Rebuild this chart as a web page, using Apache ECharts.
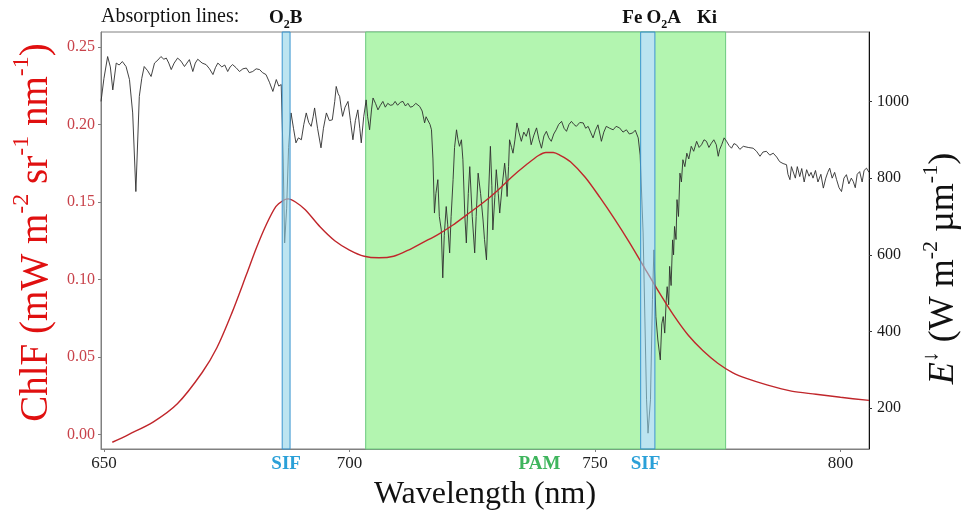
<!DOCTYPE html>
<html>
<head>
<meta charset="utf-8">
<script src="https://cdn.jsdelivr.net/npm/echarts@6/dist/echarts.min.js"></script>
<style>html,body{margin:0;padding:0;background:#fff}#c{width:963px;height:512px}</style>
</head>
<body>
<div id="c"></div>
<script>
// ---------- data ----------
const wavelengthTicks = [650, 700, 750, 800];
const chlfTicks = [0, 0.05, 0.10, 0.15, 0.20, 0.25];
const irrTicks = [200, 400, 600, 800, 1000];

const bandLabels = ['SIF', 'PAM', 'SIF'];
const bandLabelPos = [687.1, 738.7, 760.3];

const absLabels = ['O2B', 'Fe', 'O2A', 'Ki'];
const absLabelPos = [687.0, 757.6, 764.0, 772.8];

const pamBand = [[703.3, 776.6]];
const sifBands = [[686.3, 687.9], [759.3, 762.2]];

// ChlF (mW m-2 sr-1 nm-1)
const chlfWl = [651.7, 655, 660, 665, 670, 673, 676, 679, 681, 683, 685, 686.5, 687.5, 689, 691, 694, 697, 700, 703, 706, 709, 712, 715, 718, 721, 724, 727, 730, 733, 736, 738.5, 740, 741.5, 743, 745, 748, 751, 754, 757, 760, 763, 766, 769, 772, 775, 778, 781, 785, 790, 795, 800, 805.8];
const chlfVal = [-0.005, 0.000, 0.008, 0.020, 0.040, 0.056, 0.078, 0.103, 0.120, 0.135, 0.147, 0.151, 0.152, 0.150, 0.145, 0.134, 0.125, 0.119, 0.115, 0.114, 0.115, 0.119, 0.124, 0.129, 0.135, 0.142, 0.149, 0.157, 0.166, 0.174, 0.180, 0.182, 0.182, 0.180, 0.176, 0.166, 0.153, 0.139, 0.124, 0.108, 0.092, 0.077, 0.064, 0.054, 0.046, 0.040, 0.036, 0.032, 0.028, 0.026, 0.024, 0.022];

// Downwelling irradiance (W m-2 um-1)
const irrWl = [649.4, 650.0, 650.75, 651.3, 651.8, 652.5, 653.1, 653.75, 654.5, 655.2, 655.85, 656.5, 657.2, 657.7, 658.2, 658.9, 659.6, 660.3, 661.0, 661.6, 662.2, 662.7, 663.2, 663.7, 664.3, 665.0, 665.7, 666.4, 666.9, 667.4, 668.1, 668.6, 669.1, 670.0, 670.8, 671.5, 672.2, 672.7, 673.2, 674.0, 674.6, 675.2, 675.7, 676.2, 676.9, 677.6, 678.3, 679.0, 679.6, 680.3, 681.0, 681.7, 682.3, 683.0, 683.7, 684.4, 685.1, 685.6, 686.1, 686.5, 686.8, 687.2, 687.6, 688.1, 688.6, 689.1, 689.6, 690.2, 690.7, 691.2, 691.7, 692.2, 692.6, 692.9, 693.5, 694.2, 694.7, 695.3, 695.9, 696.5, 697.0, 697.3, 697.7, 698.0, 698.3, 698.6, 699.1, 699.7, 700.2, 700.7, 701.2, 701.7, 702.1, 702.4, 702.9, 703.4, 703.7, 704.1, 704.5, 704.8, 705.3, 705.8, 706.3, 706.8, 707.3, 707.8, 708.3, 708.8, 709.3, 709.8, 710.4, 710.9, 711.4, 711.9, 712.4, 712.9, 713.5, 714.3, 714.8, 715.3, 715.6, 716.0, 716.4, 716.7, 717.0, 717.3, 717.6, 718.0, 718.3, 718.7, 719.0, 719.3, 719.7, 720.0, 720.4, 720.7, 721.1, 721.4, 721.8, 722.1, 722.4, 722.8, 723.1, 723.5, 723.8, 724.2, 724.5, 725.0, 725.5, 725.8, 726.2, 726.7, 727.2, 727.5, 727.9, 728.3, 728.7, 729.0, 729.2, 729.6, 729.9, 730.3, 730.6, 731.1, 731.6, 731.9, 732.1, 732.4, 732.6, 733.0, 733.3, 733.7, 734.1, 734.5, 735.0, 735.5, 736.0, 736.5, 737.0, 737.5, 738.1, 738.6, 739.1, 739.6, 740.1, 740.6, 741.1, 741.6, 742.1, 742.6, 743.2, 743.7, 744.2, 744.7, 745.2, 745.7, 746.2, 746.9, 747.6, 748.1, 748.6, 749.1, 749.6, 750.1, 750.6, 751.0, 751.3, 751.8, 752.3, 753.0, 753.7, 754.3, 755.0, 755.7, 756.4, 757.0, 757.7, 758.2, 758.8, 759.2, 759.8, 760.5, 760.8, 761.3, 761.7, 762.0, 762.4, 762.8, 763.3, 763.6, 763.9, 764.2, 764.5, 764.7, 765.0, 765.2, 765.5, 765.8, 766.0, 766.2, 766.5, 766.7, 767.0, 767.3, 767.6, 767.9, 768.3, 768.7, 769.1, 769.6, 770.1, 770.7, 771.2, 771.7, 772.2, 772.7, 773.2, 773.7, 774.2, 774.7, 775.1, 775.4, 775.8, 776.3, 776.8, 777.3, 777.8, 778.3, 778.8, 779.5, 780.2, 781.2, 782.2, 782.9, 783.6, 784.2, 784.9, 785.6, 786.3, 787.0, 787.6, 788.3, 789.0, 789.3, 789.7, 790.0, 790.4, 790.8, 791.2, 791.7, 792.1, 792.6, 793.1, 793.6, 794.0, 794.4, 794.9, 795.4, 796.0, 796.5, 797.0, 797.4, 797.8, 798.3, 798.8, 799.2, 799.7, 800.2, 800.7, 801.2, 801.7, 802.2, 802.6, 803.0, 803.4, 803.9, 804.4, 804.8, 805.3, 805.8];
const irrVal = [1000, 1060, 1117, 1090, 1030, 1100, 1095, 1104, 1091, 1057, 970, 765, 1013, 1060, 1091, 1080, 1065, 1100, 1108, 1117, 1110, 1113, 1100, 1083, 1100, 1113, 1105, 1091, 1100, 1109, 1078, 1100, 1110, 1100, 1096, 1085, 1070, 1088, 1100, 1090, 1095, 1078, 1090, 1096, 1088, 1078, 1085, 1087, 1075, 1078, 1085, 1083, 1075, 1070, 1050, 1026, 1057, 1040, 1044, 850, 631, 720, 880, 970, 930, 892, 905, 900, 940, 970, 945, 935, 960, 983, 930, 879, 930, 970, 950, 952, 1000, 1039, 1020, 1013, 985, 961, 985, 1000, 950, 900, 950, 978, 930, 892, 960, 1004, 960, 926, 980, 1009, 995, 978, 990, 1000, 985, 995, 990, 991, 1000, 990, 998, 1000, 988, 995, 985, 987, 995, 987, 975, 944, 960, 957, 940, 926, 850, 709, 760, 796, 700, 665, 540, 650, 726, 680, 605, 700, 796, 880, 926, 900, 883, 900, 848, 700, 631, 760, 830, 700, 605, 700, 813, 760, 691, 640, 587, 750, 883, 780, 665, 750, 822, 760, 709, 780, 839, 800, 752, 830, 900, 880, 865, 900, 944, 920, 896, 920, 909, 930, 887, 910, 931, 900, 878, 910, 922, 905, 896, 915, 926, 940, 948, 930, 922, 940, 948, 940, 935, 945, 944, 930, 935, 920, 905, 925, 939, 915, 896, 920, 935, 930, 926, 935, 931, 920, 926, 915, 918, 925, 905, 860, 657, 222, 135, 222, 483, 613, 439, 378, 326, 420, 439, 396, 480, 517, 470, 570, 520, 639, 600, 674, 640, 744, 700, 813, 790, 848, 830, 865, 850, 883, 870, 896, 880, 887, 900, 896, 880, 891, 900, 887, 857, 875, 887, 905, 896, 885, 878, 890, 887, 875, 883, 880, 878, 870, 857, 868, 870, 860, 865, 855, 843, 838, 835, 810, 796, 830, 826, 800, 830, 804, 825, 790, 822, 805, 815, 800, 820, 790, 810, 774, 800, 815, 826, 800, 815, 796, 775, 765, 800, 809, 785, 800, 791, 775, 810, 817, 790, 820, 826, 815];

// ---------- chart ----------
const serif = "'Liberation Serif', 'Times New Roman', serif";
const chart = echarts.init(document.getElementById('c'), null, { renderer: 'canvas' });

const xMin = 649.4, xMax = 805.8;

// band drawn as rects; the PAM band leaves out the parts covered by SIF bands
function bandRenderer(fill, stroke, holes) {
  return function (params, api) {
    const cs = params.coordSys;
    const a = api.value(0), b = api.value(1);
    let segs = [[a, b]];
    (holes || []).forEach(h => {
      const next = [];
      segs.forEach(s => {
        if (h[1] <= s[0] || h[0] >= s[1]) { next.push(s); return; }
        if (h[0] > s[0]) next.push([s[0], h[0]]);
        if (h[1] < s[1]) next.push([h[1], s[1]]);
      });
      segs = next;
    });
    const x0 = api.coord([a, 0])[0];
    const x1 = api.coord([b, 0])[0];
    const children = segs.map(s => {
      const p0 = api.coord([s[0], 0])[0];
      const p1 = api.coord([s[1], 0])[0];
      return { type: 'rect', shape: { x: p0, y: cs.y, width: p1 - p0, height: cs.height }, style: { fill: fill, lineWidth: 0 } };
    });
    children.push({ type: 'rect', shape: { x: x0, y: cs.y, width: x1 - x0, height: cs.height }, style: { fill: 'none', stroke: stroke, lineWidth: 1 } });
    return { type: 'group', children: children };
  };
}

const option = {
  animation: false,
  backgroundColor: '#fff',
  title: {
    text: 'Absorption lines:',
    left: 101, top: 7, padding: 0,
    textStyle: { fontFamily: serif, fontSize: 20, fontWeight: 'normal', color: '#111' }
  },
  grid: { left: 101, right: 94, top: 32, bottom: 63, show: true, borderColor: '#808080', borderWidth: 1, backgroundColor: 'transparent', outerBoundsMode: 'none', containLabel: false },
  xAxis: [{
    type: 'value', min: xMin, max: xMax, position: 'bottom',
    splitLine: { show: false },
    axisLine: { show: true, onZero: false, lineStyle: { color: '#808080' } },
    axisTick: { show: true, length: 3, customValues: wavelengthTicks, lineStyle: { color: '#808080' } },
    axisLabel: {
      customValues: wavelengthTicks.concat(bandLabelPos),
      margin: 6,
      formatter: function (v) {
        const i = bandLabelPos.findIndex(p => Math.abs(p - v) < 1e-6);
        if (i >= 0) return '{' + bandLabels[i].toLowerCase() + '|' + bandLabels[i] + '}';
        return '{t|' + Math.round(v) + '}';
      },
      rich: {
        t: { fontFamily: serif, fontSize: 17, color: '#222' },
        sif: { fontFamily: serif, fontSize: 19, fontWeight: 'bold', color: '#2aa0d8' },
        pam: { fontFamily: serif, fontSize: 19, fontWeight: 'bold', color: '#3fb55d' }
      }
    },
    name: 'Wavelength (nm)', nameLocation: 'middle', nameGap: 23,
    nameTextStyle: { fontFamily: serif, fontSize: 32, color: '#111' }
  }, {
    type: 'value', min: xMin, max: xMax, position: 'top',
    splitLine: { show: false },
    axisLine: { show: false, onZero: false },
    axisTick: { show: false },
    axisLabel: {
      customValues: absLabelPos,
      margin: 1,
      formatter: function (v) {
        const i = absLabelPos.findIndex(p => Math.abs(p - v) < 1e-6);
        const s = absLabels[i];
        return s.split('').map(ch => ch === '2' ? '{s|2}' : '{b|' + ch + '}').join('');
      },
      rich: {
        b: { fontFamily: serif, fontSize: 19, fontWeight: 'bold', color: '#111', lineHeight: 22, verticalAlign: 'top' },
        s: { fontFamily: serif, fontSize: 12, fontWeight: 'bold', color: '#111', lineHeight: 12, verticalAlign: 'bottom' }
      }
    }
  }],
  yAxis: [{
    type: 'value', min: -0.00935, max: 0.2597, position: 'left',
    splitLine: { show: false },
    axisLine: { show: true, onZero: false, lineStyle: { color: '#808080' } },
    axisTick: { show: true, length: 3, customValues: chlfTicks, lineStyle: { color: '#808080' } },
    axisLabel: {
      customValues: chlfTicks, margin: 6,
      formatter: v => v.toFixed(2),
      fontFamily: serif, fontSize: 16, color: '#c8424a'
    },
    name: '{m|ChlF (mW m}{s|-2}{m| sr}{s|-1}{m| nm}{s|-1}{m|)}',
    nameLocation: 'middle', nameRotate: 90, nameGap: 42,
    nameTextStyle: {
      padding: [0, 0, 0, 16],
      rich: {
        m: { fontFamily: serif, fontSize: 39, color: '#e01010', lineHeight: 46, verticalAlign: 'bottom' },
        s: { fontFamily: serif, fontSize: 24, color: '#e01010', lineHeight: 22, verticalAlign: 'top' }
      }
    }
  }, {
    type: 'value', min: 93.8, max: 1181, position: 'right',
    splitLine: { show: false },
    axisLine: { show: true, onZero: false, lineStyle: { color: '#111' } },
    axisTick: { show: true, length: 3, customValues: irrTicks, lineStyle: { color: '#333' } },
    axisLabel: {
      customValues: irrTicks, margin: 8,
      formatter: v => String(Math.round(v)),
      fontFamily: serif, fontSize: 16, color: '#1a1a1a'
    },
    name: '{i|E}{s|↓}{m| (W m}{s|-2}{m| µm}{s|-1}{m|)}',
    nameLocation: 'middle', nameRotate: 90, nameGap: 48,
    nameTextStyle: {
      padding: [0, 56, 0, 0],
      rich: {
        i: { fontFamily: serif, fontSize: 36, fontStyle: 'italic', color: '#111', lineHeight: 42, verticalAlign: 'bottom' },
        m: { fontFamily: serif, fontSize: 36, color: '#111', lineHeight: 42, verticalAlign: 'bottom' },
        s: { fontFamily: serif, fontSize: 22, color: '#111', lineHeight: 20, verticalAlign: 'top' }
      }
    }
  }],
  series: [{
    name: 'PAM', type: 'custom', xAxisIndex: 0, yAxisIndex: 0, z: 1,
    data: pamBand, encode: { x: [0, 1] },
    renderItem: bandRenderer('#b3f5b0', '#6cc97f', sifBands)
  }, {
    name: 'Irradiance', type: 'line', xAxisIndex: 0, yAxisIndex: 1,
    data: irrWl.map((w, i) => [w, irrVal[i]]),
    showSymbol: false, z: 2,
    lineStyle: { color: '#2e2e2e', width: 0.9 }
  }, {
    name: 'ChlF', type: 'line', xAxisIndex: 0, yAxisIndex: 0,
    data: chlfWl.map((w, i) => [w, chlfVal[i]]),
    showSymbol: false, smooth: 0.3, z: 3,
    lineStyle: { color: '#c0262b', width: 1.4 }
  }, {
    name: 'SIF', type: 'custom', xAxisIndex: 0, yAxisIndex: 0, z: 6,
    data: sifBands, encode: { x: [0, 1] },
    renderItem: bandRenderer('rgba(143,210,230,0.6)', '#3a95d0', [])
  }]
};
chart.setOption(option);
</script>
</body>
</html>
